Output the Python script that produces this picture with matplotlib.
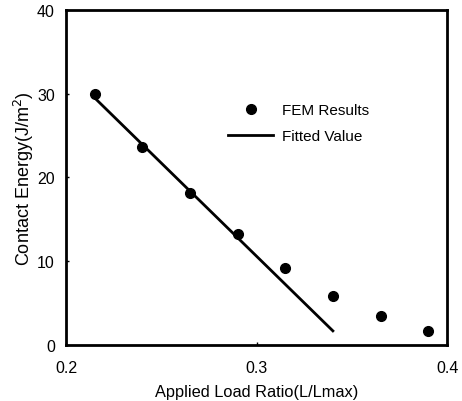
import matplotlib
matplotlib.use("Agg")
import matplotlib.pyplot as plt

plt.rcParams["font.family"] = ["Liberation Sans", "DejaVu Sans"]

load_ratio = [0.215, 0.24, 0.265, 0.29, 0.315, 0.34, 0.365, 0.39]
contact_energy = [30.0, 23.6, 18.1, 13.25, 9.2, 5.9, 3.5, 1.7]
fit_x = [0.215, 0.34]
fit_y = [29.5, 1.7]

fig = plt.figure(figsize=(4.62, 4.02), dpi=100)
ax = fig.add_axes([0.143, 0.139, 0.825, 0.834])

ax.plot(load_ratio, contact_energy, "o", color="black", markersize=7, label="FEM Results")
ax.plot(fit_x, fit_y, "-", color="black", linewidth=2, label="Fitted Value")

ax.set_xlim(0.2, 0.4)
ax.set_ylim(0, 40)
ax.set_xticks([0.2, 0.3, 0.4])
ax.set_xticklabels(["0.2", "0.3", "0.4"])
ax.set_yticks([0, 10, 20, 30, 40])
ax.tick_params(direction="in", length=2, width=1, labelsize=11.5)
ax.tick_params(axis="x", pad=11)
ax.tick_params(axis="y", pad=8)
for s in ax.spines.values():
    s.set_linewidth(2)

ax.set_xlabel("Applied Load Ratio(L/Lmax)", fontsize=11.8, labelpad=6)
ax.set_ylabel("Contact Energy(J/m$^2$)", fontsize=13, labelpad=1)

ax.legend(loc="upper left", bbox_to_anchor=(0.39, 0.762), frameon=False, fontsize=11,
          handlelength=2.9, handletextpad=0.6, labelspacing=0.75)

fig.savefig("out.png", dpi=100)
